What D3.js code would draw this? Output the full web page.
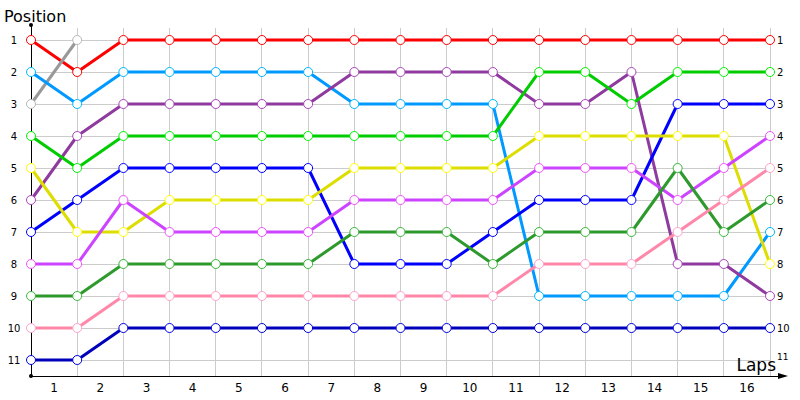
<!DOCTYPE html>
<html><head><meta charset="utf-8">
<script src="https://cdn.jsdelivr.net/npm/d3@7"></script>
<style>body{margin:0;background:#fff}svg{display:block}</style>
</head><body><div id="c"></div>
<script>
const laps = ["1","2","3","4","5","6","7","8","9","10","11","12","13","14","15","16"];
const positions = [1,2,3,4,5,6,7,8,9,10,11];
const names = ["red","gray","lightblue","purple","green","blue","yellow","magenta","darkgreen","pink","navy"];
const colors = ["#ff0000","#999999","#0099ff","#8e3a9e","#00cc00","#0000ff","#dddd00","#cc44ff","#2e9a2e","#ff88aa","#0000bb"];
const red       = [1,2,1,1,1,1,1,1,1,1,1,1,1,1,1,1,1];
const gray      = [3,1];
const lightblue = [2,3,2,2,2,2,2,3,3,3,3,9,9,9,9,9,7];
const purple    = [6,4,3,3,3,3,3,2,2,2,2,3,3,2,8,8,9];
const green     = [4,5,4,4,4,4,4,4,4,4,4,2,2,3,2,2,2];
const blue      = [7,6,5,5,5,5,5,8,8,8,7,6,6,6,3,3,3];
const yellow    = [5,7,7,6,6,6,6,5,5,5,5,4,4,4,4,4,8];
const magenta   = [8,8,6,7,7,7,7,6,6,6,6,5,5,5,6,5,4];
const darkgreen = [9,9,8,8,8,8,8,7,7,7,8,7,7,7,5,7,6];
const pink      = [10,10,9,9,9,9,9,9,9,9,9,8,8,8,7,6,5];
const navy      = [11,11,10,10,10,10,10,10,10,10,10,10,10,10,10,10,10];
const seriesData = [red,gray,lightblue,purple,green,blue,yellow,magenta,darkgreen,pink,navy];

const W=800,H=400;
const svg=d3.select("#c").append("svg").attr("width",W).attr("height",H);
const x=d3.scaleLinear().domain([0,laps.length]).range([31,770]);
const y=d3.scaleLinear().domain([1,11]).range([40,360]);
const axisY=376;
const font="Tahoma, Verdana, 'DejaVu Sans', sans-serif";

// grid
const g=svg.append("g");
g.selectAll("line.h").data(positions).join("line")
  .attr("x1",x(0)).attr("x2",x(laps.length)).attr("y1",d=>y(d)).attr("y2",d=>y(d))
  .attr("stroke","#cccccc").attr("stroke-width",1).attr("shape-rendering","crispEdges");
g.selectAll("line.v").data(d3.range(1,laps.length+1)).join("line")
  .attr("x1",d=>x(d)).attr("x2",d=>x(d)).attr("y1",28).attr("y2",axisY)
  .attr("stroke","#cccccc").attr("stroke-width",1).attr("shape-rendering","crispEdges");

// axes
svg.append("line").attr("x1",x(0)).attr("x2",x(0)).attr("y1",25).attr("y2",axisY).attr("stroke","#000").attr("shape-rendering","crispEdges");
svg.append("circle").attr("cx",x(0)).attr("cy",25).attr("r",2).attr("fill","#000");
svg.append("line").attr("x1",x(0)).attr("x2",782).attr("y1",axisY).attr("y2",axisY).attr("stroke","#000").attr("shape-rendering","crispEdges");
svg.append("circle").attr("cx",x(0)).attr("cy",axisY).attr("r",2).attr("fill","#000");
svg.append("path").attr("d",`M${778},${axisY-3}L${788},${axisY}L${778},${axisY+3}Z`).attr("fill","#000");

// y labels left and right
svg.selectAll("text.yl").data(positions).join("text")
  .attr("x",14).attr("y",d=>y(d)+4).attr("text-anchor","middle")
  .attr("font-family",font).attr("font-size",10).attr("fill","#000").text(d=>d);
svg.selectAll("text.yr").data(positions).join("text")
  .attr("x",777).attr("y",d=>y(d)+4 - (d===11?4:0)).attr("text-anchor","start")
  .attr("font-family",font).attr("font-size",d=>d===11?9:10).attr("fill","#000").text(d=>d);

// x labels
svg.selectAll("text.xl").data(laps).join("text")
  .attr("x",(d,i)=>(x(i)+x(i+1))/2).attr("y",392).attr("text-anchor","middle")
  .attr("font-family",font).attr("font-size",12).attr("fill","#000").text(d=>d);

svg.append("text").attr("x",4).attr("y",22).attr("font-family",font).attr("font-size",16).attr("fill","#000").text("Position");
svg.append("text").attr("x",776).attr("y",371).attr("text-anchor","end").attr("font-family",font).attr("font-size",17).attr("fill","#000").text("Laps");

// series
const line=d3.line().x((d,i)=>x(i)).y(d=>y(d));
seriesData.forEach((s,k)=>{
  const c=colors[k];
  svg.append("path").attr("d",line(s)).attr("fill","none").attr("stroke",c).attr("stroke-width",3).attr("stroke-linejoin","round");
});
seriesData.forEach((s,k)=>{
  const c=d3.color(colors[k]).brighter(0.5);
  svg.append("g").selectAll("circle").data(s).join("circle")
    .attr("cx",(d,i)=>x(i)).attr("cy",d=>y(d)).attr("r",4.5)
    .attr("fill","#fff").attr("stroke",c).attr("stroke-width",1);
});
</script></body></html>
